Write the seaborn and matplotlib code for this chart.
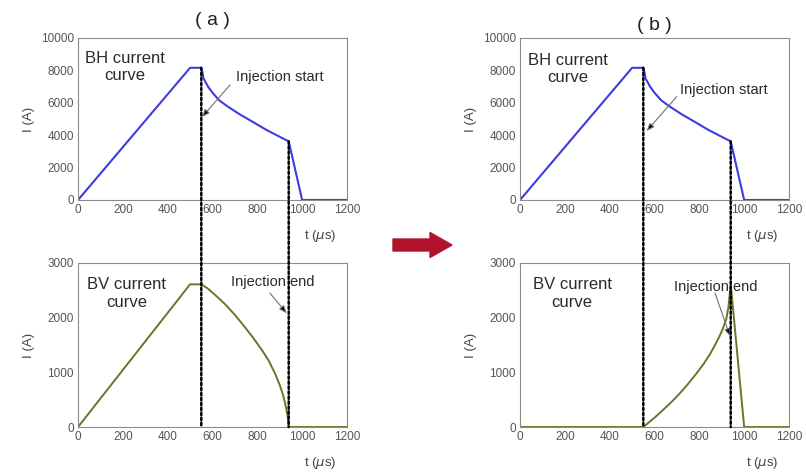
import numpy as np
import matplotlib
matplotlib.use('Agg')
import matplotlib.pyplot as plt
import seaborn as sns
from matplotlib.patches import ConnectionPatch, FancyArrow

# currents, time in microseconds
t_bh = [0, 500, 550, 555, 560, 580, 600, 630, 670, 720, 780, 840, 900, 940, 1000, 1200]
i_bh = [0, 8160, 8160, 7900, 7500, 7000, 6620, 6150, 5750, 5300, 4820, 4330, 3900, 3620, 0, 0]

t_bv_a = [0, 500, 550, 580, 620, 660, 700, 740, 780, 820, 850, 880, 900, 915, 925, 935, 940, 1200]
i_bv_a = [0, 2610, 2610, 2530, 2385, 2230, 2050, 1850, 1640, 1410, 1220, 970, 770, 580, 420, 200, 0, 0]

t_bv_b = [0, 550, 600, 640, 680, 715, 750, 790, 820, 850, 870, 890, 905, 920, 930, 940, 1000, 1200]
i_bv_b = [0, 0, 170, 320, 475, 625, 790, 995, 1160, 1350, 1500, 1660, 1800, 1970, 2200, 2610, 0, 0]

t_inj_start = 550
t_inj_end = 940

x_ticks = [0, 200, 400, 600, 800, 1000, 1200]
bh_ticks = [0, 2000, 4000, 6000, 8000, 10000]
bv_ticks = [0, 1000, 2000, 3000]

sns.set_style('white')
plt.rcParams['font.family'] = ['Liberation Sans', 'DejaVu Sans']

fig = plt.figure(figsize=(8.06, 4.72), dpi=100)

ax_a_top = fig.add_axes([0.0968, 0.5763, 0.3337, 0.3432])
ax_a_bot = fig.add_axes([0.0968, 0.0953, 0.3337, 0.3475])
ax_b_top = fig.add_axes([0.6452, 0.5763, 0.3337, 0.3432])
ax_b_bot = fig.add_axes([0.6452, 0.0953, 0.3337, 0.3475])

blue = '#3c3ce0'
green = '#66772a'

sns.lineplot(x=t_bh, y=i_bh, ax=ax_a_top, color=blue, lw=1.5, estimator=None)
sns.lineplot(x=t_bh, y=i_bh, ax=ax_b_top, color=blue, lw=1.5, estimator=None)
sns.lineplot(x=t_bv_a, y=i_bv_a, ax=ax_a_bot, color=green, lw=1.4, estimator=None)
sns.lineplot(x=t_bv_b, y=i_bv_b, ax=ax_b_bot, color=green, lw=1.4, estimator=None)

def style_axes(ax, ymax, yticks):
    ax.set_xlim(0, 1200)
    ax.set_ylim(0, ymax)
    ax.set_xticks(x_ticks)
    ax.set_yticks(yticks)
    for sp in ax.spines.values():
        sp.set_color('#8c8c8c')
        sp.set_linewidth(0.8)
    ax.tick_params(direction='in', length=3, width=0.6, color='#8c8c8c',
                   labelsize=8.5, labelcolor='#555555', pad=3)
    ax.set_ylabel('I (A)', fontsize=9.5, color='#444444')
    ax.yaxis.set_label_coords(-0.16, 0.5)
    ax.set_xlabel('t ($\\mu$s)', fontsize=9.5, color='#444444')
    ax.xaxis.set_label_coords(0.9, -0.17)

for ax in [ax_a_top, ax_b_top]:
    style_axes(ax, 10000, bh_ticks)
for ax in [ax_a_bot, ax_b_bot]:
    style_axes(ax, 3000, bv_ticks)

txt = '#2a2a2a'
arr = dict(arrowstyle='-|>,head_length=0.45,head_width=0.18', ec='#707070',
           fc='black', lw=0.8, shrinkA=0, shrinkB=0)

ax_a_top.text(210, 8200, 'BH current\ncurve', ha='center', va='center', fontsize=12, color=txt)
ax_b_top.text(215, 8080, 'BH current\ncurve', ha='center', va='center', fontsize=12, color=txt)
ax_a_bot.text(218, 2445, 'BV current\ncurve', ha='center', va='center', fontsize=12, color=txt)
ax_b_bot.text(232, 2440, 'BV current\ncurve', ha='center', va='center', fontsize=12, color=txt)

ax_a_top.text(900, 7600, 'Injection start', ha='center', va='center', fontsize=10.5, color=txt)
ax_a_top.annotate('', xy=(553, 5120), xytext=(678, 7100), arrowprops=arr)
ax_b_top.text(910, 6800, 'Injection start', ha='center', va='center', fontsize=10.5, color=txt)
ax_b_top.annotate('', xy=(565, 4260), xytext=(699, 6380), arrowprops=arr)

ax_a_bot.text(870, 2650, 'Injection end', ha='center', va='center', fontsize=10.5, color=txt)
ax_a_bot.annotate('', xy=(931, 2080), xytext=(856, 2450), arrowprops=arr)
ax_b_bot.text(873, 2556, 'Injection end', ha='center', va='center', fontsize=10.5, color=txt)
ax_b_bot.annotate('', xy=(937, 1660), xytext=(870, 2450), arrowprops=arr)

# dotted markers running through both panels
for top, bot in [(ax_a_top, ax_a_bot), (ax_b_top, ax_b_bot)]:
    for t in [t_inj_start, t_inj_end]:
        y0 = np.interp(t, t_bh, i_bh)
        con = ConnectionPatch(xyA=(t, y0), coordsA=top.transData,
                              xyB=(t, 0), coordsB=bot.transData,
                              color='black', lw=1.8, linestyle=(0, (1, 1)))
        fig.add_artist(con)

ax_a_top.text(0.5, 1.111, '( a )', transform=ax_a_top.transAxes, ha='center',
              va='center', fontsize=14, color='#222222')
ax_b_top.text(0.5, 1.080, '( b )', transform=ax_b_top.transAxes, ha='center',
              va='center', fontsize=14, color='#222222')

# red arrow between the two cases
fig.add_artist(FancyArrow(3.93, 2.27, 0.37, 0, width=0.12, head_width=0.25,
                          head_length=0.22, length_includes_head=False,
                          color='#b3122e', transform=fig.dpi_scale_trans))

fig.savefig('out.png', dpi=100)
